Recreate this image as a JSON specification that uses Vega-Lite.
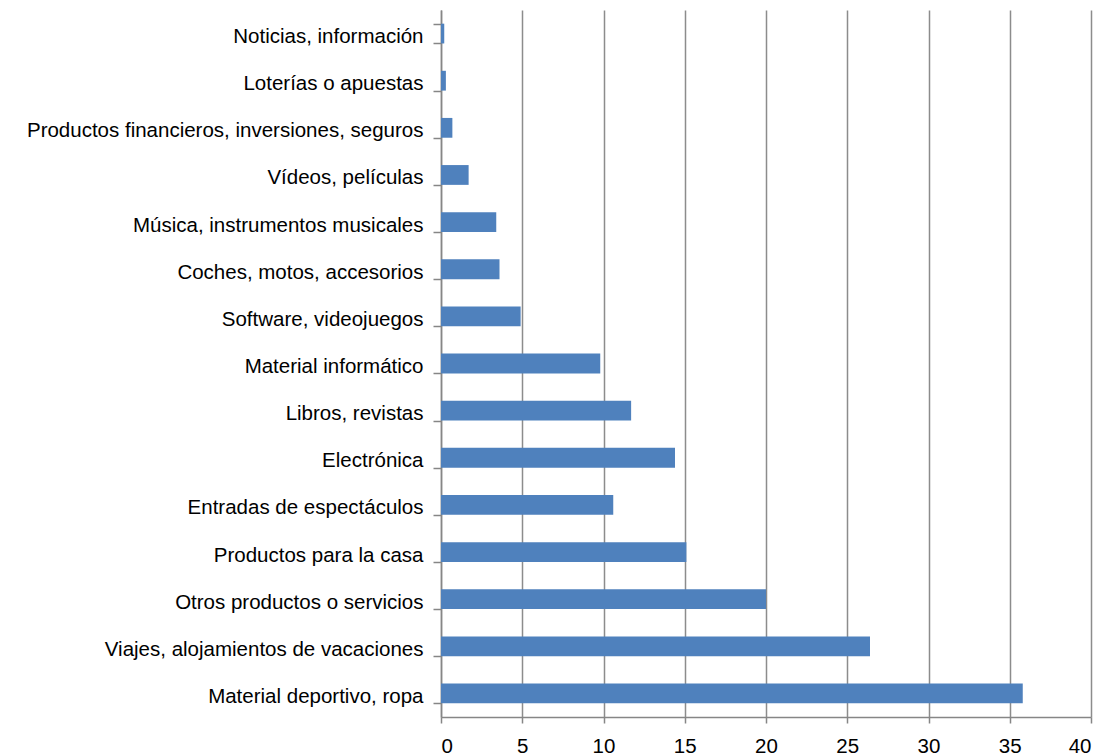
{
  "$schema": "https://vega.github.io/schema/vega-lite/v6.json",
  "width": 650,
  "height": 707,
  "autosize": {"type": "none"},
  "padding": {"left": 441, "top": 10, "right": 21, "bottom": 38},
  "background": "white",
  "data": {
    "values": [
      {"categoria": "Noticias, información", "valor": 0.2},
      {"categoria": "Loterías o apuestas", "valor": 0.3},
      {"categoria": "Productos financieros, inversiones, seguros", "valor": 0.7},
      {"categoria": "Vídeos, películas", "valor": 1.7},
      {"categoria": "Música, instrumentos musicales", "valor": 3.4},
      {"categoria": "Coches, motos, accesorios", "valor": 3.6},
      {"categoria": "Software, videojuegos", "valor": 4.9},
      {"categoria": "Material informático", "valor": 9.8},
      {"categoria": "Libros, revistas", "valor": 11.7},
      {"categoria": "Electrónica", "valor": 14.4},
      {"categoria": "Entradas de espectáculos", "valor": 10.6},
      {"categoria": "Productos para la casa", "valor": 15.1},
      {"categoria": "Otros productos o servicios", "valor": 20.0},
      {"categoria": "Viajes, alojamientos de vacaciones", "valor": 26.4},
      {"categoria": "Material deportivo, ropa", "valor": 35.8}
    ]
  },
  "config": {
    "view": {"stroke": null},
    "font": "Liberation Sans",
    "axis": {
      "labelFont": "Liberation Sans",
      "labelFontSize": 20.5,
      "labelColor": "#000000",
      "domainColor": "#868686",
      "domainWidth": 1.5,
      "tickColor": "#868686",
      "tickWidth": 1.5,
      "gridColor": "#8c8c8c",
      "gridWidth": 1.5
    }
  },
  "mark": {"type": "bar", "color": "#4F81BD"},
  "encoding": {
    "y": {
      "field": "categoria",
      "type": "nominal",
      "sort": null,
      "title": null,
      "scale": {"paddingInner": 0.58, "paddingOuter": 0.29},
      "axis": {
        "tickBand": "extent",
        "tickSize": 8,
        "labelPadding": 10,
        "labelOffset": 3,
        "labelLimit": 500,
        "grid": false
      }
    },
    "x": {
      "field": "valor",
      "type": "quantitative",
      "title": null,
      "scale": {"domain": [0, 40], "nice": false},
      "axis": {
        "values": [0, 5, 10, 15, 20, 25, 30, 35, 40],
        "tickSize": 6,
        "labelPadding": 13,
        "grid": true
      }
    }
  }
}
